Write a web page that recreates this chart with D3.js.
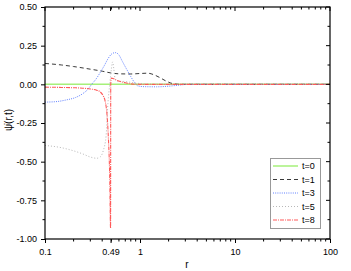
<!DOCTYPE html>
<html>
  <head>
    <title></title>
    <script src="https://d3js.org/d3.v7.min.js"></script>
    <style type="text/css">
      body { margin: 0; background: #ffffff; }
      svg { display: block; font-family: 'Liberation Sans', Arial, sans-serif; }
    </style>
  </head>
  <body>
    <div class="chart"></div>
    <script type="text/javascript">
      // series values
      var series = ['t=0', 't=1', 't=3', 't=5', 't=8'];
      var r0 = [0.1, 100];
      var v0 = [0, 0];
      var r1 = [0.1, 0.15, 0.2, 0.3, 0.4, 0.49, 0.6, 0.8, 1.0, 1.2, 1.4, 1.6, 1.9, 2.2, 2.6, 100];
      var v1 = [0.135, 0.125, 0.115, 0.098, 0.085, 0.074, 0.068, 0.067, 0.07, 0.072, 0.062, 0.045, 0.02, 0.005, 0, 0];
      var r3 = [0.1, 0.13, 0.17, 0.21, 0.25, 0.28, 0.31, 0.35, 0.38, 0.42, 0.46, 0.5, 0.55, 0.6, 0.65, 0.72, 0.8, 0.88, 0.95, 1.1, 1.5, 2.0, 2.6, 3.2, 100];
      var v3 = [-0.115, -0.112, -0.1, -0.085, -0.06, -0.035, 0, 0.04, 0.075, 0.12, 0.165, 0.195, 0.205, 0.19, 0.15, 0.1, 0.05, 0.01, -0.01, -0.015, -0.016, -0.012, -0.005, 0, 0];
      var r5 = [0.1, 0.15, 0.2, 0.25, 0.3, 0.35, 0.38, 0.41, 0.44, 0.46, 0.48, 0.5, 0.515, 0.53, 0.545, 0.56, 0.6, 0.7, 0.85, 1.0, 1.3, 100];
      var v5 = [-0.395, -0.41, -0.43, -0.45, -0.47, -0.478, -0.47, -0.43, -0.33, -0.12, 0, 0.1, 0.145, 0.1, 0.04, 0.025, 0.02, 0.018, 0.01, 0.005, 0, 0];
      var r8 = [0.1, 0.15, 0.2, 0.25, 0.3, 0.35, 0.38, 0.41, 0.43, 0.45, 0.465, 0.48, 0.49, 0.492, 0.5, 0.52, 0.56, 0.62, 0.7, 0.8, 1.0, 100];
      var v8 = [-0.018, -0.02, -0.022, -0.025, -0.03, -0.038, -0.048, -0.075, -0.11, -0.2, -0.35, -0.6, -0.93, 0.0, 0.04, 0.038, 0.028, 0.018, 0.01, 0.003, 0, 0];

      var xTicks = [0.1, 0.49, 1, 10, 100];
      var xTickLabels = ['0.1', '0.49', '1', '10', '100'];
      var yTicks = [0.5, 0.25, 0, -0.25, -0.5, -0.75, -1.0];
      var yTickLabels = ['0.50', '0.25', '0.00', '-0.25', '-0.50', '-0.75', '-1.00'];

      var colors = ['#a6f07a', '#3a3a3a', '#6080ff', '#b8b8b8', '#ff5a5a'];
      var dashes = [null, '4,3', '1,1.2', '1,2', '4,1,1,1'];
      var widths = [1.5, 1, 1, 1, 1.1];

      var width = 351, height = 271;
      var x = d3.scaleLog().domain([0.1, 100]).range([45, 330]);
      var y = d3.scaleLinear().domain([-1, 0.5]).range([239, 7]);

      var svg = d3.select('.chart').append('svg')
        .attr('width', width).attr('height', height);

      svg.append('clipPath').attr('id', 'clip')
        .append('rect').attr('x', 45).attr('y', 7).attr('width', 285).attr('height', 232);

      var data = [
        d3.zip(r0, v0), d3.zip(r1, v1), d3.zip(r3, v3), d3.zip(r5, v5), d3.zip(r8, v8)
      ];

      var line = d3.line()
        .x(function(d){ return x(d[0]); })
        .y(function(d){ return y(d[1]); })
        .curve(d3.curveMonotoneX);

      svg.append('g').attr('clip-path', 'url(#clip)')
        .selectAll('path')
        .data(data)
        .enter()
        .append('path')
          .attr('d', line)
          .attr('fill', 'none')
          .attr('stroke', function(d, i){ return colors[i]; })
          .attr('stroke-width', function(d, i){ return widths[i]; })
          .attr('stroke-dasharray', function(d, i){ return dashes[i]; });

      // minor tick positions
      var xMinor = [];
      [0.1, 1, 10].forEach(function(dec){
        for (var k = 2; k <= 9; k++) xMinor.push(dec * k);
      });
      var yMinor = d3.range(-0.875, 0.5, 0.25);

      // bottom axis (ticks outward)
      var bottom = svg.append('g').attr('transform', 'translate(0,239)');
      bottom.call(d3.axisBottom(x).tickValues(xTicks).tickSize(4).tickFormat(function(d, i){ return xTickLabels[i]; }));
      bottom.selectAll('text').attr('font-size', 9).attr('fill', '#000').attr('dy', '0.95em').attr('font-family', "'Liberation Sans', Arial, sans-serif");
      bottom.selectAll('.tick').selectAll('line').attr('stroke', '#000');
      bottom.select('.domain').remove();
      bottom.selectAll('.minor').data(xMinor).enter().append('line')
        .attr('x1', function(d){ return x(d); }).attr('x2', function(d){ return x(d); })
        .attr('y1', 0).attr('y2', 2.5).attr('stroke', '#000');

      // top axis (ticks inward)
      svg.selectAll('.topTick').data(xTicks.concat(xMinor)).enter().append('line')
        .attr('x1', function(d){ return x(d); }).attr('x2', function(d){ return x(d); })
        .attr('y1', 7).attr('y2', function(d){ return xTicks.indexOf(d) >= 0 ? 11 : 9.5; })
        .attr('stroke', '#000');

      // left axis (ticks outward)
      var left = svg.append('g').attr('transform', 'translate(45,0)');
      left.call(d3.axisLeft(y).tickValues(yTicks).tickSize(4).tickFormat(function(d, i){ return yTickLabels[i]; }));
      left.selectAll('text').attr('font-size', 9).attr('fill', '#000').attr('dx', '-0.1em').attr('font-family', "'Liberation Sans', Arial, sans-serif");
      left.selectAll('.tick').selectAll('line').attr('stroke', '#000');
      left.select('.domain').remove();
      left.selectAll('.minor').data(yMinor).enter().append('line')
        .attr('x1', 0).attr('x2', -2.5)
        .attr('y1', function(d){ return y(d); }).attr('y2', function(d){ return y(d); })
        .attr('stroke', '#000');

      // right axis (ticks inward)
      svg.selectAll('.rightTick').data(yTicks.concat(yMinor)).enter().append('line')
        .attr('x1', 330).attr('x2', function(d){ return yTicks.indexOf(d) >= 0 ? 326 : 327.5; })
        .attr('y1', function(d){ return y(d); }).attr('y2', function(d){ return y(d); })
        .attr('stroke', '#000');

      // frame
      svg.append('rect').attr('x', 45).attr('y', 7).attr('width', 285).attr('height', 232)
        .attr('fill', 'none').attr('stroke', '#000').attr('stroke-width', 1.2);

      // axis titles
      svg.append('text').attr('x', 187).attr('y', 268).attr('text-anchor', 'middle')
        .attr('font-size', 10).text('r');
      svg.append('text').attr('transform', 'translate(12,120) rotate(-90)')
        .attr('text-anchor', 'middle').attr('font-size', 10).text('\u03c8\u0307(r,t)');

      // legend
      var legend = svg.append('g');
      legend.append('rect').attr('x', 270.5).attr('y', 158.5).attr('width', 50).attr('height', 70)
        .attr('fill', '#fff').attr('stroke', '#999').attr('stroke-width', 1);
      var items = legend.selectAll('.item').data(series).enter().append('g')
        .attr('transform', function(d, i){ return 'translate(0,' + (166 + i * 13.5) + ')'; });
      items.append('line').attr('x1', 273).attr('x2', 298).attr('y1', 0).attr('y2', 0)
        .attr('stroke', function(d, i){ return colors[i]; })
        .attr('stroke-width', function(d, i){ return widths[i]; })
        .attr('stroke-dasharray', function(d, i){ return dashes[i]; });
      items.append('text').attr('x', 302).attr('y', 3.3).attr('font-size', 9).text(function(d){ return d; });
    </script>
  </body>
</html>
